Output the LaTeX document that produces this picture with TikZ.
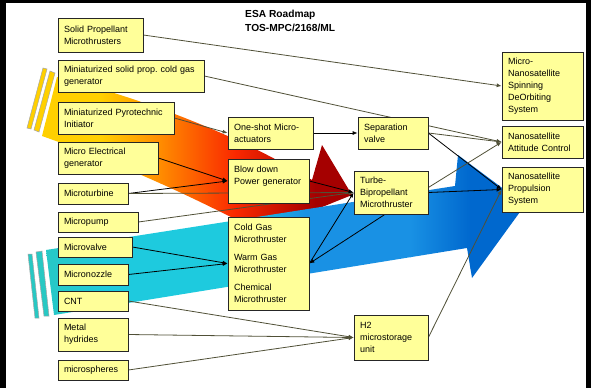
\documentclass[tikz,border=0pt]{standalone}
\usepackage{fontspec}
\setmainfont{Liberation Sans}
\usepackage{tikz}
\usetikzlibrary{positioning}
\usetikzlibrary{calc}
\usetikzlibrary{arrows.meta}
\usepackage{xcolor}
\frenchspacing

\definecolor{boxyellow}{RGB}{255,255,153}
\definecolor{connc}{RGB}{80,80,55}
\definecolor{gold}{RGB}{255,208,0}
\definecolor{warmorange}{RGB}{255,140,0}
\definecolor{warmred}{RGB}{250,40,0}
\definecolor{darkred}{RGB}{165,0,0}
\definecolor{teal1}{RGB}{40,200,195}
\definecolor{cyan1}{RGB}{30,202,222}
\definecolor{blue1}{RGB}{25,145,228}
\definecolor{blue2}{RGB}{0,104,206}

\pgfdeclarelayer{bg}
\pgfdeclarelayer{conn}
\pgfsetlayers{bg,conn,main}

\tikzset{
  box/.style={draw=black!85, line width=0.7pt, fill=boxyellow, inner xsep=6pt, inner ysep=2pt,
    align=left, font=\fontsize{9}{12}\selectfont},
  conn/.style={draw=connc, line width=0.8pt, -{Latex[length=5pt,width=4pt]}},
  connb/.style={conn, draw=black},
  stripe/.style={draw=black!35, line width=0.5pt},
}

\begin{document}
\begin{tikzpicture}[x=1pt,y=-1pt]
\useasboundingbox (0,0) rectangle (591,388);

\begin{pgfonlayer}{bg}
\fill[black] (0,0) rectangle (591,388);
\fill[white] (6,3) rectangle (586,388);

% warm arrow
\begin{scope}
  \clip (57,77) .. controls (130,95) and (230,130) .. (312,180) -- (322,145) -- (352,195)
    -- (260,232) .. controls (180,190) and (110,160) .. (42,136) -- cycle;
  \fill[gold] (20,50) rectangle (100.5,260);
  \shade[left color=gold, right color=warmorange] (100,50) rectangle (160.5,260);
  \shade[left color=warmorange, right color=warmred] (160,50) rectangle (235.5,260);
  \shade[left color=warmred, right color=darkred] (235,50) rectangle (315.5,260);
  \fill[darkred] (315,50) rectangle (360,260);
\end{scope}
\draw[stripe, fill=gold] (43,68) -- (47,69) -- (31,129) -- (27,128) -- cycle;
\draw[stripe, fill=gold] (50,71) -- (55,73) -- (39,132) -- (34,130) -- cycle;

% blue arrow
\begin{scope}
  \clip (46,250) -- (455,186) -- (458,155) -- (525,205) -- (472,278) -- (467,248) -- (54,315) -- cycle;
  \shade[left color=teal1, right color=cyan1] (40,140) rectangle (110.5,330);
  \fill[cyan1] (110,140) rectangle (235.5,330);
  \shade[left color=cyan1, right color=blue1] (235,140) rectangle (305.5,330);
  \fill[blue1] (305,140) rectangle (410.5,330);
  \shade[left color=blue1, right color=blue2] (410,140) rectangle (470.5,330);
  \fill[blue2] (470,140) rectangle (540,330);
\end{scope}
\draw[stripe, fill=teal1] (28,254) -- (32,254) -- (39,318) -- (35,318) -- cycle;
\draw[stripe, fill=teal1] (36,252) -- (42,251) -- (49,316) -- (44,316) -- cycle;
\end{pgfonlayer}

\node[font=\bfseries\fontsize{10.2}{14}\selectfont, align=left, anchor=north west, inner sep=0pt]
  (title) at (245,10.4) {ESA Roadmap\\TOS-MPC/2168/ML};

% left column
\node[box, minimum width=85pt, minimum height=34pt, text width=73pt] (sp) at (100.5,35) {Solid Propellant\\Microthrusters};
\node[box, minimum width=146pt, minimum height=32pt, text width=134pt] (cgg) at (131,76) {Miniaturized solid prop. cold gas\\generator};
\node[box, minimum width=116pt, minimum height=32pt, text width=104pt] (pyro) at (116,118) {Miniaturized Pyrotechnic\\Initiator};
\node[box, minimum width=100pt, minimum height=32pt, text width=88pt] (meg) at (108,158) {Micro Electrical\\generator};
\node[box, minimum width=70pt, minimum height=21pt, text width=58pt] (mturb) at (93,193.5) {Microturbine};
\node[box, minimum width=80pt, minimum height=20pt, text width=68pt] (mpump) at (98,222) {Micropump};
\node[box, minimum width=74pt, minimum height=20pt, text width=62pt] (mvalve) at (95,247) {Microvalve};
\node[box, minimum width=70pt, minimum height=21pt, text width=58pt] (mnoz) at (93,274.5) {Micronozzle};
\node[box, minimum width=70pt, minimum height=20pt, text width=58pt] (cnt) at (93,301) {CNT};
\node[box, minimum width=70pt, minimum height=33pt, text width=58pt] (mh) at (93,334.5) {Metal\\hydrides};
\node[box, minimum width=70pt, minimum height=20pt, text width=58pt] (msph) at (93,370) {microspheres};

% middle
\node[box, minimum width=85pt, minimum height=32pt, text width=73pt] (osa) at (270.5,133) {One-shot Micro-\\actuators};
\node[box, minimum width=81pt, minimum height=44pt, text width=69pt] (bdp) at (268.5,181) {Blow down\\Power generator\\\mbox{}};
\node[box, minimum width=81pt, minimum height=93pt, text width=69pt] (cgm) at (268.5,263.5)
  {Cold Gas\\Microthruster\\[6pt]Warm Gas\\Microthruster\\[6pt]Chemical\\Microthruster};
\node[box, minimum width=70pt, minimum height=32pt, text width=58pt] (sv) at (393,133) {Separation\\valve};
\node[box, minimum width=74pt, minimum height=43pt, text width=62pt] (tbm) at (391,192.5) {Turbe-\\Bipropellant\\Microthruster};
\node[box, minimum width=74pt, minimum height=45pt, text width=62pt] (h2) at (391,337.5) {H2\\microstorage\\unit};

% right column
\node[box, minimum width=81pt, minimum height=68pt, text width=69pt] (mnsd) at (542.5,86) {Micro-\\Nanosatellite\\Spinning\\DeOrbiting\\System};
\node[box, minimum width=81pt, minimum height=32pt, text width=69pt] (nac) at (542.5,142) {Nanosatellite\\Attitude Control};
\node[box, minimum width=81pt, minimum height=45pt, text width=69pt] (nps) at (542.5,189.5) {Nanosatellite\\Propulsion\\System};

\begin{pgfonlayer}{conn}
\draw[conn] (sp.east) -- (mnsd.west);
\draw[conn] (cgg.east) -- (nac.west);
\draw[conn] (pyro.east) -- (osa.west);
\draw[connb] (meg.east) -- (bdp.west);
\draw[connb] (mturb.east) -- (bdp.west);
\draw[conn] (mturb.east) -- (tbm.west);
\draw[conn] (mpump.east) -- (tbm.west);
\draw[connb] (bdp.east) -- (tbm.west);
\draw[connb] (osa.east) -- (sv.west);
\foreach \s in {mvalve,mnoz}
  \draw[connb] (\s.east) -- (cgm.west);
\draw[connb] (cgm.east) -- (tbm.west);
\draw[connb] ($(tbm.south)+(-6,0)$) -- (cgm.east);
\foreach \s in {cnt,mh,msph}
  \draw[conn] (\s.east) -- (h2.west);
\draw[conn] (sv.east) -- (nac.west);
\draw[connb] (sv.east) -- (nps.west);
\draw[conn] ($(tbm.east)+(0,-5)$) -- (nac.west);
\draw[connb] (tbm.east) -- (nps.west);
\draw[conn] (h2.east) -- (nps.west);
\end{pgfonlayer}
\end{tikzpicture}
\end{document}
